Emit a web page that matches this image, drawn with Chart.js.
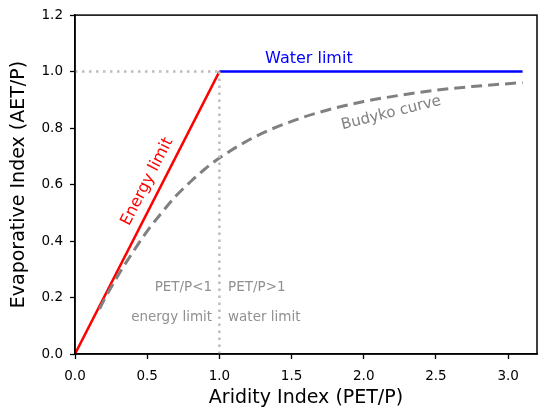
<!DOCTYPE html>
<html>
<head>
<meta charset="utf-8">
<script src="https://cdn.jsdelivr.net/npm/chart.js@4/dist/chart.umd.min.js"></script>
<style>
  body { margin: 0; background: #fff; }
  #wrap { width: 550px; height: 418px; }
</style>
</head>
<body>
<div id="wrap"><canvas id="budykoChart"></canvas></div>
<script>
// energy limit: AET/P = PET/P up to 1
const energyX = [0, 1];
const energyY = [0, 1];
// water limit: AET/P = 1
const waterX = [1, 3.1];
const waterY = [1, 1];
// reference dotted guides
const guideHX = [0, 1];
const guideHY = [1, 1];
const guideVX = [1, 1];
const guideVY = [0, 1];
// Budyko curve
const budykoX = [0.17, 0.2, 0.3, 0.4, 0.5, 0.6, 0.7, 0.8, 0.9, 1.0, 1.25, 1.5, 1.75, 2.0, 2.25, 2.5, 2.75, 3.1];
const budykoY = [0.16, 0.19, 0.28, 0.36, 0.435, 0.50, 0.56, 0.61, 0.655, 0.694, 0.77, 0.824, 0.864, 0.894, 0.916, 0.934, 0.947, 0.961];

const xTicks = [0, 0.5, 1.0, 1.5, 2.0, 2.5, 3.0];
const yTicks = [0, 0.2, 0.4, 0.6, 0.8, 1.0, 1.2];

const FONT = "'DejaVu Sans', sans-serif";

function toPoints(xs, ys) {
  return xs.map((x, i) => ({ x: x, y: ys[i] }));
}

// frame + text labels
const annotate = {
  id: 'annotate',
  afterDatasetsDraw(chart) {
    const ctx = chart.ctx;
    const a = chart.chartArea;
    const xs = chart.scales.x;
    const ys = chart.scales.y;

    ctx.save();
    ctx.strokeStyle = '#000';
    ctx.lineWidth = 1.5;
    ctx.strokeRect(a.left, a.top, a.right - a.left, a.bottom - a.top);

    function label(text, x, y, color, size, angle, align) {
      ctx.save();
      ctx.translate(xs.getPixelForValue(x), ys.getPixelForValue(y));
      ctx.rotate(angle * Math.PI / 180);
      ctx.fillStyle = color;
      ctx.font = size + 'px ' + FONT;
      ctx.textAlign = align || 'center';
      ctx.textBaseline = 'middle';
      ctx.fillText(text, 0, 0);
      ctx.restore();
    }

    label('Water limit', 1.62, 1.045, '#0000ff', 16, 0);
    label('Energy limit', 0.5, 0.61, '#ff0000', 16, -63);
    label('Budyko curve', 2.19, 0.853, '#808080', 15, -14);
    label('PET/P<1', 0.95, 0.235, '#909090', 13.5, 0, 'right');
    label('PET/P>1', 1.06, 0.235, '#909090', 13.5, 0, 'left');
    label('energy limit', 0.95, 0.13, '#909090', 13.5, 0, 'right');
    label('water limit', 1.06, 0.13, '#909090', 13.5, 0, 'left');
    ctx.restore();
  }
};

const ctx = document.getElementById('budykoChart').getContext('2d');
new Chart(ctx, {
  type: 'scatter',
  data: {
    datasets: [{
      label: 'guide h',
      data: toPoints(guideHX, guideHY),
      showLine: true,
      borderColor: '#bdbdbd',
      borderWidth: 2.5,
      borderDash: [2.5, 4.5],
      pointRadius: 0
    },
    {
      label: 'guide v',
      data: toPoints(guideVX, guideVY),
      showLine: true,
      borderColor: '#bdbdbd',
      borderWidth: 2.5,
      borderDash: [2.5, 4.5],
      pointRadius: 0
    },
    {
      label: 'Budyko curve',
      data: toPoints(budykoX, budykoY),
      showLine: true,
      borderColor: '#808080',
      borderWidth: 3,
      borderDash: [11, 6],
      cubicInterpolationMode: 'monotone',
      pointRadius: 0
    },
    {
      label: 'Energy limit',
      data: toPoints(energyX, energyY),
      showLine: true,
      borderColor: '#ff0000',
      borderWidth: 2.5,
      pointRadius: 0
    },
    {
      label: 'Water limit',
      data: toPoints(waterX, waterY),
      showLine: true,
      borderColor: '#0000ff',
      borderWidth: 2.5,
      pointRadius: 0
    }]
  },
  options: {
    responsive: true,
    maintainAspectRatio: false,
    animation: false,
    layout: {
      padding: { top: 15, right: 13, left: 0, bottom: 0 }
    },
    plugins: {
      legend: { display: false },
      tooltip: { enabled: false }
    },
    scales: {
      x: {
        type: 'linear',
        min: 0,
        max: 3.2,
        afterBuildTicks: (scale) => { scale.ticks = xTicks.map(v => ({ value: v })); },
        afterFit: (scale) => { scale.height = 64; },
        ticks: {
          color: '#000',
          font: { family: FONT, size: 13.5 },
          padding: 9,
          callback: (v) => v.toFixed(1)
        },
        grid: {
          drawOnChartArea: false,
          drawTicks: true,
          tickLength: 5,
          tickWidth: 1.3,
          color: '#000'
        },
        border: { display: true, color: '#000', width: 1.5 },
        title: {
          display: true,
          text: 'Aridity Index (PET/P)',
          color: '#000',
          font: { family: FONT, size: 19 },
          padding: { top: 8.6, bottom: 8.6 }
        }
      },
      y: {
        type: 'linear',
        min: 0,
        max: 1.2,
        afterBuildTicks: (scale) => { scale.ticks = yTicks.map(v => ({ value: v })); },
        afterFit: (scale) => { scale.width = 75; },
        ticks: {
          color: '#000',
          font: { family: FONT, size: 13.5 },
          padding: 7,
          callback: (v) => v.toFixed(1)
        },
        grid: {
          drawOnChartArea: false,
          drawTicks: true,
          tickLength: 5,
          tickWidth: 1.3,
          color: '#000'
        },
        border: { display: true, color: '#000', width: 1.5 },
        title: {
          display: true,
          text: 'Evaporative Index (AET/P)',
          color: '#000',
          font: { family: FONT, size: 19 },
          padding: { top: 8, bottom: 8 }
        }
      }
    }
  },
  plugins: [annotate]
});
</script>
</body>
</html>
